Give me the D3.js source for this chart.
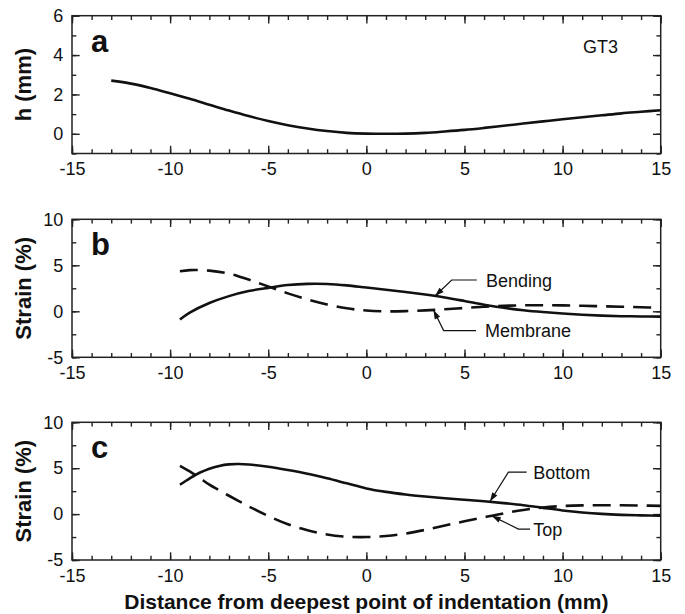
<!DOCTYPE html>
<html>
<head>
<meta charset="utf-8">
<script src="https://cdn.jsdelivr.net/npm/d3@7"></script>
<style>
  body { margin: 0; background: #fff; }
  svg { display: block; font-family: "Liberation Sans", Arial, sans-serif; }
  .tick text { font-size: 18px; fill: #111; }
  .tick line { stroke: #222; stroke-width: 1.4; }
</style>
</head>
<body>
<svg id="chart" width="685" height="614"></svg>
<script>
// panel a: surface profile h (mm)
const xA = [-13, -12, -11, -10, -9, -8, -7, -6, -5, -4, -3, -2, -1, 0, 1, 2, 3, 4, 5, 6, 7, 8, 9, 10, 11, 12, 13, 14, 15];
const hValues = [2.7, 2.55, 2.33, 2.06, 1.78, 1.48, 1.18, 0.9, 0.65, 0.44, 0.27, 0.14, 0.05, 0.01, 0.0, 0.01, 0.05, 0.12, 0.2, 0.3, 0.41, 0.52, 0.63, 0.74, 0.84, 0.94, 1.04, 1.12, 1.2];

// panel b: bending / membrane strain (%)
const xB = [-9.5, -9, -8, -7, -6, -5, -4, -3, -2, -1, 0, 1, 2, 3, 4, 5, 6, 7, 8, 9, 10, 11, 12, 13, 14, 15];
const bendingValues = [-0.9, -0.15, 0.9, 1.65, 2.2, 2.55, 2.85, 2.98, 2.97, 2.82, 2.58, 2.35, 2.1, 1.82, 1.5, 1.12, 0.72, 0.38, 0.12, -0.08, -0.24, -0.37, -0.47, -0.53, -0.56, -0.58];
const membraneValues = [4.35, 4.48, 4.42, 4.1, 3.45, 2.7, 1.95, 1.3, 0.75, 0.33, 0.08, 0.0, 0.02, 0.1, 0.22, 0.36, 0.5, 0.6, 0.65, 0.66, 0.64, 0.6, 0.55, 0.5, 0.44, 0.38];

// panel c: bottom / top strain (%)
const xC = [-9.5, -9, -8.5, -8, -7.5, -7, -6.5, -6, -5, -4, -3, -2, -1, 0, 1, 2, 3, 4, 5, 6, 7, 8, 9, 10, 11, 12, 13, 14, 15];
const bottomValues = [3.2, 3.9, 4.5, 4.95, 5.25, 5.42, 5.45, 5.4, 5.15, 4.8, 4.4, 3.9, 3.35, 2.8, 2.42, 2.14, 1.92, 1.73, 1.56, 1.4, 1.2, 0.97, 0.68, 0.4, 0.18, 0.02, -0.08, -0.14, -0.18];
const topValues = [5.25, 4.65, 3.95, 3.2, 2.6, 2.0, 1.42, 0.85, -0.2, -1.1, -1.75, -2.22, -2.46, -2.5, -2.38, -2.12, -1.72, -1.25, -0.78, -0.35, 0.08, 0.45, 0.72, 0.88, 0.95, 0.97, 0.96, 0.93, 0.9];

// ticks
const xMajorTicks = [-15, -10, -5, 0, 5, 10, 15];
const xMinorTicks = d3.range(-15, 16, 1);
const hMajorTicks = [0, 2, 4, 6];
const hMinorTicks = [-1, 0, 1, 2, 3, 4, 5, 6];
const strainMajorTicks = [-5, 0, 5, 10];
const strainMinorTicks = [-5, -2.5, 0, 2.5, 5, 7.5, 10];

const svg = d3.select('#chart');
const left = 72, right = 660.7;
const majorLen = 7.7, minorLen = 4.3;

const xScale = d3.scaleLinear().domain([-15, 15]).range([left, right]);

function drawPanel(cfg) {
    const y = d3.scaleLinear().domain(cfg.yDomain).range([cfg.bottom, cfg.top]);
    const g = svg.append('g');

    // minor ticks (all four sides, pointing inward)
    g.append('g').attr('transform', `translate(0,${cfg.bottom})`)
        .call(d3.axisBottom(xScale).tickValues(xMinorTicks).tickSize(-minorLen).tickFormat(''));
    g.append('g').attr('transform', `translate(0,${cfg.top})`)
        .call(d3.axisTop(xScale).tickValues(xMinorTicks).tickSize(-minorLen).tickFormat(''));
    g.append('g').attr('transform', `translate(${left},0)`)
        .call(d3.axisLeft(y).tickValues(cfg.yMinor).tickSize(-minorLen).tickFormat(''));
    g.append('g').attr('transform', `translate(${right},0)`)
        .call(d3.axisRight(y).tickValues(cfg.yMinor).tickSize(-minorLen).tickFormat(''));

    // major ticks with labels
    g.append('g').attr('transform', `translate(0,${cfg.bottom})`)
        .call(d3.axisBottom(xScale).tickValues(xMajorTicks).tickSize(-majorLen).tickPadding(9).tickFormat(d3.format('d')));
    g.append('g').attr('transform', `translate(0,${cfg.top})`)
        .call(d3.axisTop(xScale).tickValues(xMajorTicks).tickSize(-majorLen).tickFormat(''));
    g.append('g').attr('transform', `translate(${left},0)`)
        .call(d3.axisLeft(y).tickValues(cfg.yMajor).tickSize(-majorLen).tickPadding(8.7).tickFormat(d3.format('d')));
    g.append('g').attr('transform', `translate(${right},0)`)
        .call(d3.axisRight(y).tickValues(cfg.yMajor).tickSize(-majorLen).tickFormat(''));

    g.selectAll('.domain').remove();
    g.selectAll('.tick text').style('font-family', '"Liberation Sans", Arial, sans-serif').attr('fill', '#111');
    g.selectAll('.tick text').text(function () { return d3.select(this).text().replace('−', '-'); });

    // frame
    g.append('rect')
        .attr('x', left).attr('y', cfg.top)
        .attr('width', right - left).attr('height', cfg.bottom - cfg.top)
        .attr('fill', 'none').attr('stroke', '#222').attr('stroke-width', 1.5);

    const line = d3.line()
        .x(d => xScale(d[0]))
        .y(d => y(d[1]))
        .curve(d3.curveCatmullRom.alpha(0.5));

    cfg.series.forEach(s => {
        g.append('path')
            .datum(s.x.map((v, i) => [v, s.values[i]]))
            .attr('d', line)
            .attr('fill', 'none')
            .attr('stroke', '#111')
            .attr('stroke-width', 2.6)
            .attr('stroke-dasharray', s.dashed ? '18,9' : null);
    });

    // annotation leaders
    (cfg.notes || []).forEach(n => {
        const tip = [xScale(n.tip[0]), y(n.tip[1])];
        const elbow = [xScale(n.elbow[0]), y(n.elbow[1])];
        const end = [xScale(n.end[0]), y(n.elbow[1])];
        g.append('path')
            .attr('d', d3.line()([end, elbow, tip]))
            .attr('fill', 'none').attr('stroke', '#111').attr('stroke-width', 1.2);
        const dx = elbow[0] - tip[0], dy = elbow[1] - tip[1];
        const len = Math.hypot(dx, dy), ux = dx / len, uy = dy / len;
        const hl = 9, hw = 3;
        const bx = tip[0] + ux * hl, by = tip[1] + uy * hl;
        g.append('polygon')
            .attr('points', [tip, [bx - uy * hw, by + ux * hw], [bx + uy * hw, by - ux * hw]].map(p => p.join(',')).join(' '))
            .attr('fill', '#111');
        g.append('text')
            .attr('x', xScale(n.textX)).attr('y', y(n.elbow[1]))
            .attr('dy', '0.36em')
            .attr('font-size', 18).attr('fill', '#111')
            .text(n.text);
    });

    // panel letter
    g.append('text')
        .attr('x', left + 19).attr('y', cfg.top + 36)
        .attr('font-size', 31).attr('font-weight', 'bold').attr('fill', '#111')
        .text(cfg.letter);

    // y-axis title
    g.append('text')
        .attr('transform', `translate(31,${(cfg.top + cfg.bottom) / 2}) rotate(-90)`)
        .attr('text-anchor', 'middle')
        .attr('font-size', 22).attr('font-weight', 'bold').attr('fill', '#111')
        .text(cfg.yTitle);

    return { g, y };
}

const pa = drawPanel({
    top: 15.7, bottom: 153.5, yDomain: [-1, 6],
    yMajor: hMajorTicks, yMinor: hMinorTicks,
    letter: 'a', yTitle: 'h (mm)',
    series: [{ x: xA, values: hValues, dashed: false }]
});
pa.g.append('text')
    .attr('x', 583).attr('y', 53)
    .attr('font-size', 18).attr('fill', '#111')
    .text('GT3');

drawPanel({
    top: 219.3, bottom: 357.3, yDomain: [-5, 10],
    yMajor: strainMajorTicks, yMinor: strainMinorTicks,
    letter: 'b', yTitle: 'Strain (%)',
    series: [
        { x: xB, values: bendingValues, dashed: false },
        { x: xB, values: membraneValues, dashed: true }
    ],
    notes: [
        { text: 'Bending', tip: [3.5, 1.66], elbow: [4.35, 3.4], end: [5.63], textX: 6.1 },
        { text: 'Membrane', tip: [3.42, 0.14], elbow: [3.94, -2.1], end: [5.59], textX: 6.05 }
    ]
});

drawPanel({
    top: 422.3, bottom: 560, yDomain: [-5, 10],
    yMajor: strainMajorTicks, yMinor: strainMinorTicks,
    letter: 'c', yTitle: 'Strain (%)',
    series: [
        { x: xC, values: bottomValues, dashed: false },
        { x: xC, values: topValues, dashed: true }
    ],
    notes: [
        { text: 'Bottom', tip: [6.3, 1.37], elbow: [7.24, 4.57], end: [8.17], textX: 8.51 },
        { text: 'Top', tip: [6.39, -0.19], elbow: [7.75, -1.63], end: [8.34], textX: 8.51 }
    ]
});

// shared x-axis title
svg.append('text')
    .attr('x', (left + right) / 2).attr('y', 609)
    .attr('text-anchor', 'middle')
    .attr('font-size', 21).attr('font-weight', 'bold').attr('fill', '#111')
    .text('Distance from deepest point of indentation (mm)');
</script>
</body>
</html>
